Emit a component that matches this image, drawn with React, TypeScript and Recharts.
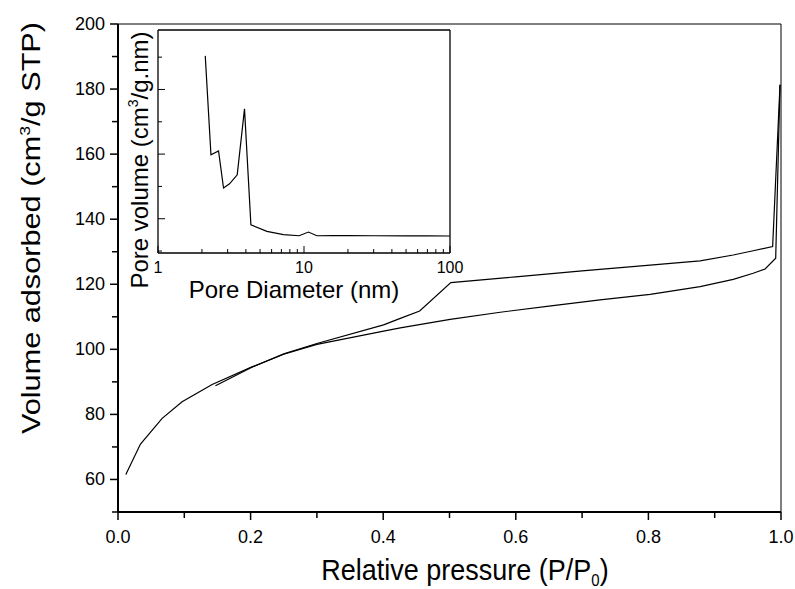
import React from 'react';
import { LineChart, Line, XAxis, YAxis, ReferenceLine } from 'recharts';

// Adsorption branch (lower)
const adsP = [0.0118, 0.0339, 0.0666, 0.0967, 0.142, 0.202, 0.25, 0.3, 0.4006, 0.4258, 0.501, 0.5765, 0.65, 0.727, 0.8026, 0.878, 0.928, 0.958, 0.976, 0.992, 0.9985];
const adsV = [61.5, 70.9, 78.8, 83.9, 89.2, 94.6, 98.5, 101.5, 105.6, 106.6, 109.2, 111.4, 113.3, 115.2, 116.9, 119.3, 121.5, 123.4, 124.7, 128.0, 181.3];

// Desorption branch (upper)
const desP = [0.9985, 0.9874, 0.958, 0.928, 0.878, 0.8026, 0.7, 0.6, 0.502, 0.455, 0.4258, 0.4006, 0.3, 0.25, 0.202, 0.147];
const desV = [181.3, 131.6, 130.3, 129.0, 127.2, 125.9, 124.1, 122.3, 120.5, 111.8, 109.5, 107.5, 101.8, 98.6, 94.5, 88.8];

// Inset: pore size distribution
const poreD = [2.107, 2.305, 2.598, 2.811, 3.09, 3.488, 3.913, 4.328, 5.57, 7.23, 9.26, 10.73, 12.24, 15.9, 20, 30, 50, 70, 100];
const poreV = [0.0352, 0.0199, 0.0205, 0.01475, 0.0154, 0.0168, 0.027, 0.00907, 0.00804, 0.00753, 0.00737, 0.00794, 0.00737, 0.0074, 0.0074, 0.00737, 0.00735, 0.00734, 0.00733];

const xTicks = [0, 0.1, 0.2, 0.3, 0.4, 0.5, 0.6, 0.7, 0.8, 0.9, 1.0];
const xMajor = [0, 0.2, 0.4, 0.6, 0.8, 1.0];
const yTicks = [50, 60, 70, 80, 90, 100, 110, 120, 130, 140, 150, 160, 170, 180, 190, 200];
const yMajor = [60, 80, 100, 120, 140, 160, 180, 200];

const insetXTicks = [1, 2, 3, 4, 5, 6, 7, 8, 9, 10, 20, 30, 40, 50, 60, 70, 80, 90, 100];
const insetXMajor = [1, 10, 100];
const insetYTicks = [0.005, 0.01, 0.015, 0.02, 0.025, 0.03, 0.035];
const insetYMajor = [0.01, 0.02, 0.03];

const adsData = adsP.map((p, i) => ({ p, v: adsV[i] }));
const desData = desP.map((p, i) => ({ p, v: desV[i] }));
const poreData = poreD.map((d, i) => ({ d, v: poreV[i] }));

const FONT = "'Liberation Sans', Arial, sans-serif";
const near = (a: number, list: number[]) => list.some((m) => Math.abs(m - a) < 1e-6);

const MainXTick = (props: any) => {
  const { x, y, payload } = props;
  const major = near(payload.value, xMajor);
  return (
    <g>
      <line x1={x} x2={x} y1={y} y2={y + (major ? 8 : 6)} stroke="#000" strokeWidth={1.5} />
      {major && (
        <text x={x} y={y + 31} textAnchor="middle" fontSize={18} fontFamily={FONT} fill="#000">
          {payload.value.toFixed(1)}
        </text>
      )}
    </g>
  );
};

const MainYTick = (props: any) => {
  const { x, y, payload } = props;
  const major = near(payload.value, yMajor);
  return (
    <g>
      <line x1={x} x2={x - (major ? 8 : 6)} y1={y} y2={y} stroke="#000" strokeWidth={1.5} />
      {major && (
        <text x={x - 13} y={y + 6} textAnchor="end" fontSize={18} fontFamily={FONT} fill="#000">
          {payload.value}
        </text>
      )}
    </g>
  );
};

const InsetXTick = (props: any) => {
  const { x, y, payload } = props;
  const major = near(payload.value, insetXMajor);
  return (
    <g>
      <line x1={x} x2={x} y1={y} y2={y - (major ? 7 : 4)} stroke="#000" strokeWidth={1} />
      {major && (
        <text x={x} y={y + 20} textAnchor="middle" fontSize={16} fontFamily={FONT} fill="#000">
          {payload.value}
        </text>
      )}
    </g>
  );
};

const InsetYTick = (props: any) => {
  const { x, y, payload } = props;
  const major = near(payload.value, insetYMajor);
  return <line x1={x} x2={x + (major ? 7 : 4)} y1={y} y2={y} stroke="#000" strokeWidth={1} />;
};

export default function App() {
  return (
    <div style={{ position: 'absolute', left: 0, top: 0, width: 795, height: 589, background: '#fff', overflow: 'hidden' }}>
      <div style={{ position: 'absolute', left: 0, top: 0 }}>
        <LineChart width={795} height={589} margin={{ top: 24, right: 14, left: 0, bottom: 0 }}>
          <XAxis
            dataKey="p"
            type="number"
            domain={[0, 1]}
            ticks={xTicks}
            interval={0}
            height={77}
            tickSize={0}
            tickMargin={0}
            tick={<MainXTick />}
            axisLine={{ stroke: '#000', strokeWidth: 2 }}
            tickLine={false}
            allowDataOverflow
          />
          <YAxis
            type="number"
            domain={[50, 200]}
            ticks={yTicks}
            interval={0}
            width={118}
            tickSize={0}
            tickMargin={0}
            tick={<MainYTick />}
            axisLine={{ stroke: '#000', strokeWidth: 2 }}
            tickLine={false}
            allowDataOverflow
          />
          <ReferenceLine y={200} stroke="#000" strokeWidth={1} />
          <ReferenceLine x={1} stroke="#000" strokeWidth={1} />
          <Line data={adsData} dataKey="v" type="linear" stroke="#000" strokeWidth={1.2} dot={false} isAnimationActive={false} />
          <Line data={desData} dataKey="v" type="linear" stroke="#000" strokeWidth={1.2} dot={false} isAnimationActive={false} />
        </LineChart>
      </div>
      <div style={{ position: 'absolute', left: 0, top: 0 }}>
        <LineChart width={795} height={589} margin={{ top: 30, right: 345, left: 0, bottom: 0 }}>
          <XAxis
            dataKey="d"
            type="number"
            scale="log"
            domain={[1, 100]}
            ticks={insetXTicks}
            interval={0}
            height={336}
            tickSize={0}
            tickMargin={0}
            tick={<InsetXTick />}
            axisLine={{ stroke: '#000', strokeWidth: 1.3 }}
            tickLine={false}
            allowDataOverflow
          />
          <YAxis
            type="number"
            domain={[0.0047, 0.0392]}
            ticks={insetYTicks}
            interval={0}
            width={158}
            tickSize={0}
            tickMargin={0}
            tick={<InsetYTick />}
            axisLine={{ stroke: '#000', strokeWidth: 1.3 }}
            tickLine={false}
            allowDataOverflow
          />
          <ReferenceLine y={0.0392} stroke="#000" strokeWidth={1.3} />
          <ReferenceLine x={100} stroke="#000" strokeWidth={1.3} />
          <Line data={poreData} dataKey="v" type="linear" stroke="#000" strokeWidth={1.2} dot={false} isAnimationActive={false} />
        </LineChart>
      </div>
      <svg width={795} height={589} style={{ position: 'absolute', left: 0, top: 0, pointerEvents: 'none' }}>
        <text transform="translate(465,580) scale(1,1.12)" x={0} y={0} textAnchor="middle" fontSize={27} fontFamily={FONT} fill="#000">
          <tspan>Relative pressure (P/P</tspan>
          <tspan dy={5} fontSize={15}>0</tspan>
          <tspan dy={-5}>)</tspan>
        </text>
        <text transform="translate(40,228) rotate(-90) scale(1.18,1)" x={0} y={0} textAnchor="middle" fontSize={26} fontFamily={FONT} fill="#000">
          <tspan>Volume adsorbed (cm</tspan>
          <tspan dy={-10} fontSize={15}>3</tspan>
          <tspan dy={10}>/g STP)</tspan>
        </text>
        <text x={294} y={298} textAnchor="middle" fontSize={24} fontFamily={FONT} fill="#000">
          Pore Diameter (nm)
        </text>
        <text transform="translate(148,160) rotate(-90)" textAnchor="middle" fontSize={24} fontFamily={FONT} fill="#000">
          <tspan>Pore volume (cm</tspan>
          <tspan dy={-10} fontSize={14}>3</tspan>
          <tspan dy={10}>/g.nm)</tspan>
        </text>
      </svg>
    </div>
  );
}
